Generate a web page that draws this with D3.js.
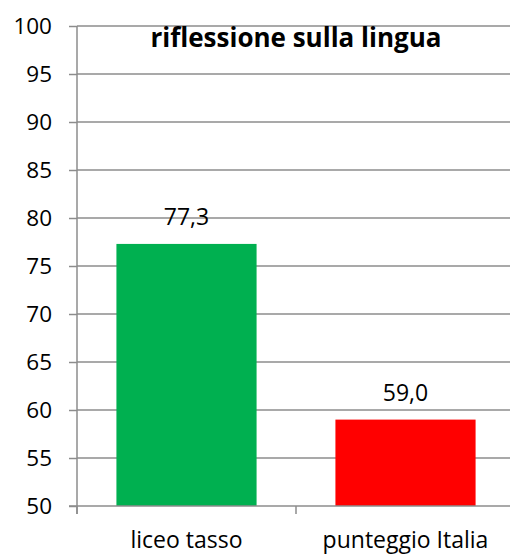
<!DOCTYPE html>
<html><head><meta charset="utf-8">
<script src="https://cdn.jsdelivr.net/npm/d3@7/dist/d3.min.js"></script>
<style>body{margin:0;background:#fff}svg{display:block}</style>
</head><body>
<svg id="c" width="510" height="555"></svg>
<script>
const categories = ["liceo tasso", "punteggio Italia"];
const values = [77.3, 59.0];
const colors = ["#00b050", "#ff0000"];
const yTicks = [50,55,60,65,70,75,80,85,90,95,100];
const title = "riflessione sulla lingua";

(function(){
const svg = d3.select("#c");
const font = "'Open Sans', sans-serif";
const pLeft = 77, pRight = 515, pTop = 26, pBottom = 506;
const y = d3.scaleLinear().domain([50,100]).range([pBottom, pTop]);
const x = d3.scaleBand().domain(categories).range([pLeft, pRight]).paddingInner(0.36).paddingOuter(0.18);
const grid = "#8c8c8c";

// gridlines
svg.append("g").selectAll("line").data(yTicks.filter(d=>d>50)).join("line")
  .attr("x1", pLeft).attr("x2", 510).attr("y1", d=>y(d)).attr("y2", d=>y(d))
  .attr("stroke", grid).attr("stroke-width", 1.5);

// bars
svg.append("g").selectAll("rect").data(values).join("rect")
  .attr("x", (d,i)=>x(categories[i])).attr("width", x.bandwidth())
  .attr("y", d=>y(d)).attr("height", d=>y(50)-y(d)).attr("fill", (d,i)=>colors[i]);

// y axis
const ya = svg.append("g").attr("transform", `translate(${pLeft},0)`)
  .call(d3.axisLeft(y).tickValues(yTicks).tickSize(8).tickPadding(17).tickFormat(d3.format("d")));
ya.select(".domain").remove();
ya.selectAll("line").attr("stroke", grid).attr("stroke-width", 1.5);
ya.selectAll("text").attr("font-family", font).attr("font-size", 22.5).attr("fill", "#000");
svg.append("line").attr("x1", pLeft).attr("x2", pLeft).attr("y1", pTop).attr("y2", pBottom+8)
  .attr("stroke", grid).attr("stroke-width", 1.5);

// x axis
svg.append("line").attr("x1", pLeft-8).attr("x2", 510).attr("y1", pBottom).attr("y2", pBottom)
  .attr("stroke", grid).attr("stroke-width", 1.5);
const bounds = [pLeft, pLeft + (pRight-pLeft)/2, pRight];
svg.append("g").selectAll("line").data(bounds).join("line")
  .attr("x1", d=>d).attr("x2", d=>d).attr("y1", pBottom).attr("y2", pBottom+8)
  .attr("stroke", grid).attr("stroke-width", 1.5);
svg.append("g").selectAll("text").data(categories).join("text")
  .attr("x", d=>x(d)+x.bandwidth()/2).attr("y", 548).attr("text-anchor", "middle")
  .attr("font-family", font).attr("font-size", 23).attr("fill", "#000").text(d=>d);

// value labels
svg.append("g").selectAll("text").data(values).join("text")
  .attr("x", (d,i)=>x(categories[i])+x.bandwidth()/2).attr("y", d=>y(d)-19)
  .attr("text-anchor", "middle").attr("font-family", font).attr("font-size", 23).attr("fill", "#000")
  .text(d=>d.toFixed(1).replace(".", ","));

// title
svg.append("text").attr("x", 296).attr("y", 47).attr("text-anchor", "middle")
  .attr("font-family", font).attr("font-weight", "bold").attr("font-size", 26).attr("fill", "#000")
  .text(title);
})();
</script>
</body></html>
